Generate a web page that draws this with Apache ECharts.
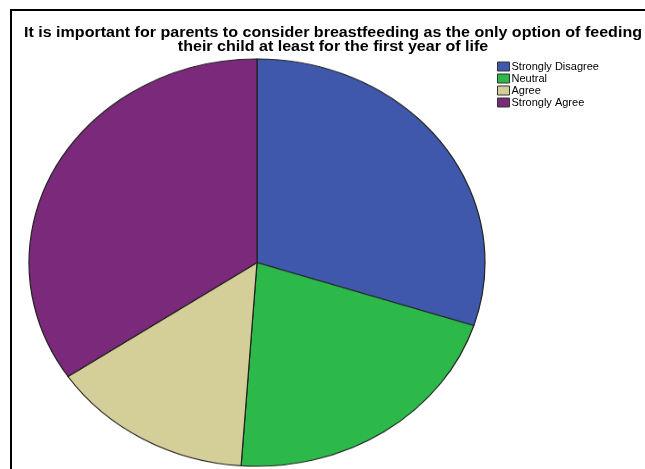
<!DOCTYPE html>
<html>
<head>
<meta charset="utf-8">
<script src="https://cdn.jsdelivr.net/npm/echarts@6/dist/echarts.min.js"></script>
<style>
  html, body { margin: 0; padding: 0; background: #fff; }
  #wrap { position: relative; width: 645px; height: 469px; overflow: hidden; }
  #main { position: absolute; left: 0; top: 0; width: 645px; height: 469px; }
  /* the pie is drawn round and squeezed vertically into an ellipse */
  #pie { position: absolute; left: 28px; top: 58px; width: 458px; height: 458px;
         transform: scaleY(0.8934); transform-origin: 0 0; }
</style>
</head>
<body>
<div id="wrap">
  <div id="main"></div>
  <div id="pie"></div>
</div>
<script>
const titleLines = [
  'It is important for parents to consider breastfeeding as the only option of feeding',
  'their child at least for the first year of life'
];
const categories = ['Strongly Disagree', 'Neutral', 'Agree', 'Strongly Agree'];
const counts = [27, 19, 13, 31];
const colors = ['#3f58ab', '#2db84a', '#d4ce98', '#7a297b'];

const pieData = categories.map((name, i) => ({
  name: name,
  value: counts[i],
  itemStyle: { color: colors[i] }
}));

const FONT = '"Liberation Sans", Arial, sans-serif';

// Frame, title and legend
const main = echarts.init(document.getElementById('main'), null, { renderer: 'canvas' });
main.setOption({
  animation: false,
  graphic: [
    { type: 'rect', shape: { x: 11, y: 10, width: 800, height: 600 },
      style: { fill: 'none', stroke: '#000', lineWidth: 2 }, silent: true },
    { type: 'text', x: 333, y: 26, scaleX: 1.07,
      style: { text: titleLines.join('\n'), font: 'bold 15px ' + FONT,
               fill: '#000', align: 'center', lineHeight: 14 }, silent: true }
  ],
  legend: {
    orient: 'vertical',
    left: 497, top: 61, padding: 0,
    itemWidth: 12, itemHeight: 9, itemGap: 1,
    icon: 'rect',
    itemStyle: { borderColor: '#333', borderWidth: 1 },
    textStyle: { fontSize: 11, fontFamily: FONT, color: '#000', padding: [0, 0, 0, -3] },
    data: categories
  },
  series: [{
    type: 'pie', radius: [0, 0], silent: true,
    label: { show: false }, labelLine: { show: false },
    data: pieData
  }]
});

// The pie itself
const pie = echarts.init(document.getElementById('pie'), null, { renderer: 'canvas' });
pie.setOption({
  animation: false,
  series: [{
    type: 'pie',
    center: ['50%', '50%'],
    radius: 228,
    startAngle: 90,
    clockwise: true,
    label: { show: false },
    labelLine: { show: false },
    emphasis: { scale: false },
    itemStyle: { borderColor: '#222', borderWidth: 1.2 },
    data: pieData
  }]
});

main.on('legendselectchanged', function (e) {
  pie.dispatchAction({ type: e.selected[e.name] ? 'legendSelect' : 'legendUnSelect', name: e.name });
});
</script>
</body>
</html>
